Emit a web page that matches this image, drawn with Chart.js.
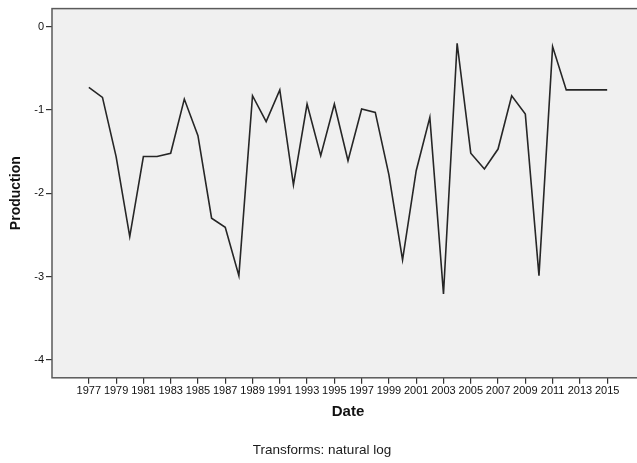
<!DOCTYPE html>
<html>
<head>
<meta charset="utf-8">
<script src="https://cdn.jsdelivr.net/npm/chart.js@4/dist/chart.umd.min.js"></script>
<style>
  html, body { margin: 0; padding: 0; background: #ffffff; overflow: hidden; width: 637px; height: 463px; }
  #wrap { width: 650px; height: 463px; }
</style>
</head>
<body>
<div id="wrap"><canvas id="c" width="650" height="463"></canvas></div>
<script>
// ---- data ----
const years = [1977,1978,1979,1980,1981,1982,1983,1984,1985,1986,1987,1988,1989,1990,1991,1992,1993,1994,1995,1996,1997,1998,1999,2000,2001,2002,2003,2004,2005,2006,2007,2008,2009,2010,2011,2012,2013,2014,2015];
const production = [-0.73,-0.85,-1.56,-2.52,-1.56,-1.56,-1.52,-0.87,-1.31,-2.30,-2.41,-2.99,-0.83,-1.14,-0.76,-1.90,-0.93,-1.55,-0.93,-1.61,-0.99,-1.03,-1.78,-2.80,-1.73,-1.09,-3.21,-0.20,-1.52,-1.71,-1.47,-0.83,-1.05,-2.99,-0.24,-0.76,-0.76,-0.76,-0.76];
const xTickYears = [1977,1979,1981,1983,1985,1987,1989,1991,1993,1995,1997,1999,2001,2003,2005,2007,2009,2011,2013,2015];
const yTickValues = [0,-1,-2,-3,-4];
const xTitle = 'Date';
const yTitle = 'Production';
const footnote = 'Transforms: natural log';

const FONT = 'Arial, "Liberation Sans", sans-serif';

const areaPlugin = {
  id: 'areaPlugin',
  beforeDraw(chart) {
    const {ctx, chartArea: a} = chart;
    ctx.save();
    ctx.fillStyle = '#f0f0f0';
    ctx.fillRect(a.left, a.top, a.right - a.left, a.bottom - a.top);
    ctx.restore();
  },
  afterDraw(chart) {
    const {ctx, chartArea: a} = chart;
    ctx.save();
    ctx.strokeStyle = '#5a5a5a';
    ctx.lineWidth = 1.5;
    ctx.strokeRect(a.left, a.top, a.right - a.left, a.bottom - a.top);
    ctx.restore();
  }
};

new Chart(document.getElementById('c'), {
  type: 'line',
  data: {
    datasets: [{
      data: years.map((y, i) => ({x: y, y: production[i]})),
      borderColor: '#262626',
      borderWidth: 1.6,
      pointRadius: 0,
      tension: 0,
      fill: false
    }]
  },
  options: {
    responsive: false,
    devicePixelRatio: 1,
    animation: false,
    layout: { padding: { top: 8, right: 6, bottom: 5, left: 0 } },
    plugins: {
      legend: { display: false },
      tooltip: { enabled: false },
      title: {
        display: true,
        position: 'bottom',
        text: footnote,
        color: '#1a1a1a',
        font: { family: FONT, size: 13.5, weight: 'normal' },
        padding: 0
      }
    },
    scales: {
      x: {
        type: 'linear',
        min: 1974.3,
        max: 2017.7,
        afterBuildTicks(scale) { scale.ticks = xTickYears.map(v => ({value: v})); },
        afterFit(scale) { scale.height = 64; },
        border: { display: false },
        grid: { drawOnChartArea: false, drawTicks: true, tickLength: 6, color: '#333333', lineWidth: 1.2 },
        ticks: {
          autoSkip: false, maxRotation: 0, minRotation: 0, padding: 1,
          color: '#111111',
          font: { family: FONT, size: 11 },
          callback: (v) => String(v)
        },
        title: {
          display: true, text: xTitle, color: '#111111',
          font: { family: FONT, size: 15, weight: 'bold' },
          padding: { top: 0, bottom: 21 }
        }
      },
      y: {
        type: 'linear',
        min: -4.216,
        max: 0.216,
        afterBuildTicks(scale) { scale.ticks = yTickValues.map(v => ({value: v})); },
        afterFit(scale) { scale.width = 52; },
        border: { display: false },
        grid: { drawOnChartArea: false, drawTicks: true, tickLength: 6, color: '#333333', lineWidth: 1.2 },
        ticks: {
          padding: 2,
          color: '#111111',
          font: { family: FONT, size: 11 },
          callback: (v) => String(v)
        },
        title: {
          display: true, text: yTitle, color: '#111111',
          font: { family: FONT, size: 14, weight: 'bold' },
          padding: { top: 7.5, bottom: 0 }
        }
      }
    }
  },
  plugins: [areaPlugin]
});
</script>
</body>
</html>
